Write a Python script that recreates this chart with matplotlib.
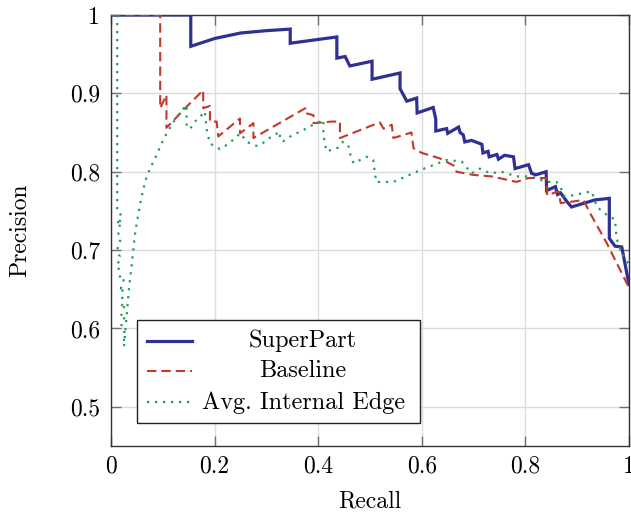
import matplotlib
matplotlib.use("Agg")
import matplotlib.pyplot as plt
from matplotlib.patches import Rectangle
from matplotlib.ticker import FixedLocator, FuncFormatter

# precision/recall values
superpart_recall = [0.000, 0.154, 0.154, 0.200, 0.250, 0.300, 0.346, 0.346, 0.436, 0.436,
                    0.452, 0.461, 0.504, 0.504, 0.558, 0.558, 0.571, 0.590, 0.591, 0.622,
                    0.627, 0.627, 0.648, 0.650, 0.671, 0.674, 0.680, 0.683, 0.696, 0.716,
                    0.718, 0.728, 0.730, 0.745, 0.748, 0.760, 0.777, 0.780, 0.806, 0.812,
                    0.820, 0.840, 0.841, 0.858, 0.862, 0.868, 0.880, 0.889, 0.934, 0.962,
                    0.962, 0.973, 0.986, 1.000]
superpart_precision = [1.000, 1.000, 0.960, 0.970, 0.977, 0.980, 0.982, 0.964, 0.972, 0.945,
                       0.947, 0.935, 0.941, 0.918, 0.926, 0.906, 0.890, 0.894, 0.875, 0.882,
                       0.867, 0.852, 0.855, 0.849, 0.857, 0.850, 0.847, 0.838, 0.840, 0.835,
                       0.824, 0.826, 0.819, 0.822, 0.816, 0.821, 0.819, 0.804, 0.809, 0.798,
                       0.796, 0.800, 0.776, 0.781, 0.771, 0.773, 0.762, 0.755, 0.764, 0.766,
                       0.715, 0.705, 0.704, 0.656]

baseline_recall = [0.000, 0.095, 0.095, 0.107, 0.107, 0.146, 0.178, 0.178, 0.191, 0.191,
                   0.204, 0.207, 0.249, 0.249, 0.275, 0.275, 0.375, 0.375, 0.391, 0.391,
                   0.426, 0.442, 0.442, 0.519, 0.526, 0.542, 0.545, 0.580, 0.584, 0.600,
                   0.635, 0.664, 0.667, 0.699, 0.735, 0.783, 0.806, 0.841, 0.842, 0.864,
                   0.868, 0.892, 0.912, 0.925, 0.957, 1.000]
baseline_precision = [1.000, 1.000, 0.881, 0.898, 0.856, 0.883, 0.904, 0.881, 0.884, 0.864,
                      0.864, 0.845, 0.868, 0.849, 0.862, 0.843, 0.881, 0.875, 0.872, 0.862,
                      0.864, 0.864, 0.843, 0.863, 0.855, 0.860, 0.843, 0.850, 0.830, 0.824,
                      0.817, 0.807, 0.800, 0.796, 0.794, 0.787, 0.792, 0.792, 0.770, 0.775,
                      0.760, 0.762, 0.764, 0.747, 0.709, 0.652]

edge_recall = [0.012, 0.012, 0.019, 0.012, 0.019, 0.014, 0.019, 0.014, 0.012, 0.017,
               0.012, 0.019, 0.014, 0.019, 0.025, 0.019, 0.025, 0.019, 0.025, 0.019,
               0.026, 0.019, 0.027, 0.019, 0.024, 0.026, 0.025, 0.025,
               0.030, 0.035, 0.040, 0.043, 0.046, 0.051, 0.056, 0.062, 0.069, 0.079,
               0.087, 0.093, 0.099, 0.106, 0.113, 0.120, 0.128, 0.136, 0.146, 0.146,
               0.153, 0.162, 0.172, 0.181, 0.185, 0.191, 0.210, 0.228, 0.239, 0.250,
               0.262, 0.281, 0.291, 0.301, 0.313, 0.326, 0.326, 0.333, 0.346, 0.358,
               0.371, 0.384, 0.397, 0.410, 0.410, 0.416, 0.426, 0.439, 0.447, 0.458,
               0.462, 0.468, 0.494, 0.506, 0.512, 0.545, 0.597, 0.648, 0.677, 0.696,
               0.712, 0.732, 0.754, 0.783, 0.809, 0.828, 0.841, 0.860, 0.867, 0.876,
               0.892, 0.928, 0.938, 0.957, 0.973, 0.976, 0.986, 1.000]
edge_precision = [1.000, 0.751, 0.747, 0.732, 0.739, 0.722, 0.713, 0.709, 0.698, 0.692,
                  0.686, 0.681, 0.675, 0.662, 0.663, 0.651, 0.653, 0.643, 0.634, 0.627,
                  0.629, 0.615, 0.615, 0.605, 0.603, 0.595, 0.585, 0.577,
                  0.615, 0.653, 0.681, 0.700, 0.719, 0.739, 0.758, 0.777, 0.794, 0.809,
                  0.820, 0.829, 0.838, 0.847, 0.855, 0.863, 0.870, 0.878, 0.885, 0.857,
                  0.855, 0.864, 0.870, 0.877, 0.853, 0.836, 0.829, 0.836, 0.843, 0.849,
                  0.838, 0.833, 0.835, 0.841, 0.846, 0.851, 0.841, 0.839, 0.845, 0.849,
                  0.853, 0.858, 0.862, 0.866, 0.847, 0.826, 0.828, 0.831, 0.838, 0.834,
                  0.822, 0.811, 0.819, 0.815, 0.787, 0.787, 0.802, 0.815, 0.813, 0.798,
                  0.804, 0.798, 0.800, 0.794, 0.794, 0.790, 0.787, 0.787, 0.781, 0.768,
                  0.770, 0.775, 0.755, 0.745, 0.739, 0.715, 0.696, 0.682]

x_ticks = [0, 0.2, 0.4, 0.6, 0.8, 1]
y_ticks = [0.5, 0.6, 0.7, 0.8, 0.9, 1]
labels = ["SuperPart", "Baseline", "Avg. Internal Edge"]

BLUE = "#2e3192"
RED = "#c0392b"
GREEN = "#1aa05a"

plt.rcParams["font.family"] = ["cmr10", "DejaVu Serif"]
plt.rcParams["axes.formatter.use_mathtext"] = True
plt.rcParams["font.size"] = 17

fig = plt.figure(figsize=(6.31, 5.12), dpi=100)
ax = fig.add_axes([111 / 631, 66 / 512, 518 / 631, 431 / 512])

styles = [
    dict(color=BLUE, lw=2.3, ls="-"),
    dict(color=RED, lw=1.5, ls=(0, (4.5, 2.4))),
    dict(color=GREEN, lw=1.6, ls=(0, (1.0, 2.6))),
]
series = [(superpart_recall, superpart_precision),
          (baseline_recall, baseline_precision),
          (edge_recall, edge_precision)]

for (xs, ys), st in zip(series, styles):
    ax.plot(xs, ys, solid_joinstyle="miter", dash_capstyle="butt", zorder=3, **st)

ax.set_xlim(0, 1)
ax.set_ylim(0.45, 1)
ax.xaxis.set_major_locator(FixedLocator(x_ticks))
ax.yaxis.set_major_locator(FixedLocator(y_ticks))
fmt = FuncFormatter(lambda v, p: "%g" % v)
ax.xaxis.set_major_formatter(fmt)
ax.yaxis.set_major_formatter(fmt)

ax.grid(True, color="#dcdcdc", lw=1.0, zorder=0)
ax.set_axisbelow(True)
ax.tick_params(direction="in", length=7, width=1, color="#707070",
               top=True, right=True, labelsize=17)
ax.tick_params(axis="x", pad=7)
ax.tick_params(axis="y", pad=8)
for sp in ax.spines.values():
    sp.set_color("#333333")
    sp.set_linewidth(1.0)

ax.set_xlabel("Recall", labelpad=9)
ax.set_ylabel("Precision", labelpad=28)

# legend box drawn by hand so the labels can be centred like pgfplots
ax.add_patch(Rectangle((0.050, 0.053), 0.547, 0.239, transform=ax.transAxes,
                       facecolor="white", edgecolor="#222222", lw=1.0, zorder=5))
row_y = [0.244, 0.175, 0.101]
text_y = [0.229, 0.159, 0.087]
for lab, st, ly, ty in zip(labels, styles, row_y, text_y):
    ax.plot([0.0695, 0.156], [ly, ly], transform=ax.transAxes, zorder=6,
            clip_on=False, **st)
    ax.text(0.371, ty, lab, transform=ax.transAxes, ha="center", va="baseline",
            fontsize=17.5, zorder=6)

fig.savefig("out.png", dpi=100)
